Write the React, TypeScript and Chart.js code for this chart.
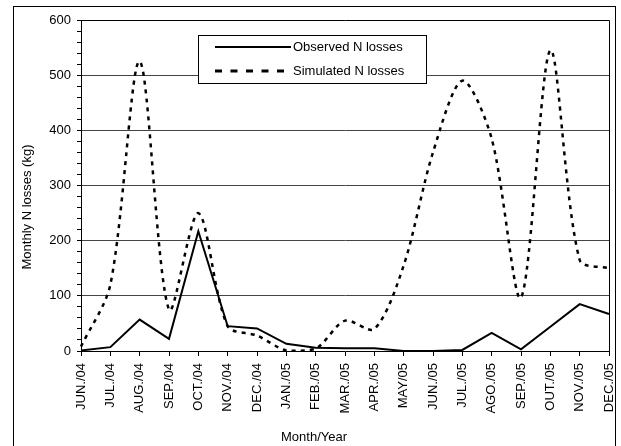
import React, { useEffect, useRef } from "react";
import { Chart, registerables } from "chart.js";

Chart.register(...registerables);

const months = [
  "JUN./04", "JUL./04", "AUG./04", "SEP./04", "OCT./04", "NOV./04", "DEC./04",
  "JAN./05", "FEB./05", "MAR./05", "APR./05", "MAY/05", "JUN./05", "JUL./05",
  "AGO./05", "SEP./05", "OUT./05", "NOV./05", "DEC./05",
];
const observed = [1, 7, 57, 22, 217, 45, 41, 13, 6, 5, 5, 0, 0, 2, 33, 3, 44, 85, 67];
const simulated = [8, 120, 525, 75, 250, 45, 28, 1, 4, 55, 40, 155, 360, 490, 385, 97, 545, 165, 150];
const legendLabels = ["Observed N losses", "Simulated N losses"];
const yTitle = "Monthly N losses (kg)";
const xTitle = "Month/Year";

const FONT = "Arial, 'Liberation Sans', sans-serif";
const FS = 13;

const framePlugin = {
  id: "framePlugin",
  afterDraw(chart: any) {
    const { ctx, chartArea } = chart;
    const { left, right, top, bottom } = chartArea;
    ctx.save();
    ctx.strokeStyle = "#000";
    ctx.lineWidth = 1;
    ctx.beginPath();
    ctx.moveTo(left, top + 0.5);
    ctx.lineTo(right + 0.5, top + 0.5);
    ctx.lineTo(right + 0.5, bottom);
    ctx.stroke();

    // legend box
    const bx = 198.5, by = 35.5, bw = 228, bh = 48;
    ctx.fillStyle = "#fff";
    ctx.fillRect(bx, by, bw, bh);
    ctx.strokeRect(bx, by, bw, bh);
    const rows = [47, 71];
    ctx.lineWidth = 2;
    ctx.beginPath();
    ctx.moveTo(215, rows[0]);
    ctx.lineTo(291, rows[0]);
    ctx.stroke();
    ctx.lineWidth = 3;
    ctx.setLineDash([7, 8.5]);
    ctx.beginPath();
    ctx.moveTo(215, rows[1]);
    ctx.lineTo(287, rows[1]);
    ctx.stroke();
    ctx.setLineDash([]);
    ctx.fillStyle = "#000";
    ctx.font = `${FS}px ${FONT}`;
    ctx.textBaseline = "middle";
    ctx.textAlign = "left";
    ctx.fillText(legendLabels[0], 293, rows[0]);
    ctx.fillText(legendLabels[1], 293, rows[1]);

    // axis titles
    ctx.textAlign = "center";
    ctx.fillText(xTitle, 314, 437);
    ctx.save();
    ctx.translate(27, 207);
    ctx.rotate(-Math.PI / 2);
    ctx.fillText(yTitle, 0, 0);
    ctx.restore();
    ctx.restore();
  },
};

export default function App() {
  const ref = useRef<HTMLCanvasElement>(null);
  useEffect(() => {
    if (!ref.current) return;
    const chart = new Chart(ref.current, {
      type: "line",
      data: {
        labels: months,
        datasets: [
          {
            label: legendLabels[0],
            data: observed,
            borderColor: "#000",
            borderWidth: 2,
            pointRadius: 0,
            tension: 0,
            fill: false,
          },
          {
            label: legendLabels[1],
            data: simulated,
            borderColor: "#000",
            borderWidth: 2.5,
            borderDash: [4, 5],
            pointRadius: 0,
            tension: 0.3,
            fill: false,
          },
        ],
      },
      options: {
        responsive: false,
        animation: false,
        layout: { padding: { top: 20, right: 12, left: 0, bottom: 0 } },
        plugins: { legend: { display: false }, tooltip: { enabled: false } },
        scales: {
          x: {
            type: "category",
            offset: false,
            grid: { drawOnChartArea: false, drawTicks: true, tickLength: 5, tickColor: "#000" },
            border: { color: "#000", width: 1 },
            ticks: {
              autoSkip: false,
              maxRotation: 90,
              minRotation: 90,
              padding: 7,
              color: "#000",
              font: { family: FONT, size: FS },
            },
            afterFit: (s: any) => {
              s.height = 95;
              s.paddingLeft = 0;
              s.paddingRight = 0;
            },
          },
          y: {
            min: 0,
            max: 600,
            grid: {
              color: (c: any) =>
                c.tick && c.tick.value % 100 === 0 && c.tick.value !== 0 && c.tick.value !== 600
                  ? "#444"
                  : "rgba(0,0,0,0)",
              tickColor: "#000",
              tickLength: 4,
              drawTicks: true,
            },
            border: { color: "#000", width: 1 },
            ticks: {
              stepSize: 20,
              autoSkip: false,
              padding: 6,
              color: "#000",
              font: { family: FONT, size: FS },
              callback: (v: any) => (Number(v) % 100 === 0 ? String(v) : ""),
            },
            afterFit: (s: any) => {
              s.width = 81;
              s.paddingTop = 0;
              s.paddingBottom = 0;
            },
          },
        },
      },
      plugins: [framePlugin],
    });
    return () => chart.destroy();
  }, []);

  return (
    <div style={{ position: "absolute", left: 0, top: 0, width: 621, height: 446, background: "#fff", overflow: "hidden" }}>
      <div
        style={{
          position: "absolute",
          left: 13,
          top: 6,
          width: 603,
          height: 460,
          borderLeft: "1px solid #000",
          borderTop: "1px solid #000",
          borderRight: "1px solid #000",
          boxSizing: "border-box",
          pointerEvents: "none",
        }}
      />
      <canvas ref={ref} width={621} height={446} style={{ position: "absolute", left: 0, top: 0 }} />
    </div>
  );
}
